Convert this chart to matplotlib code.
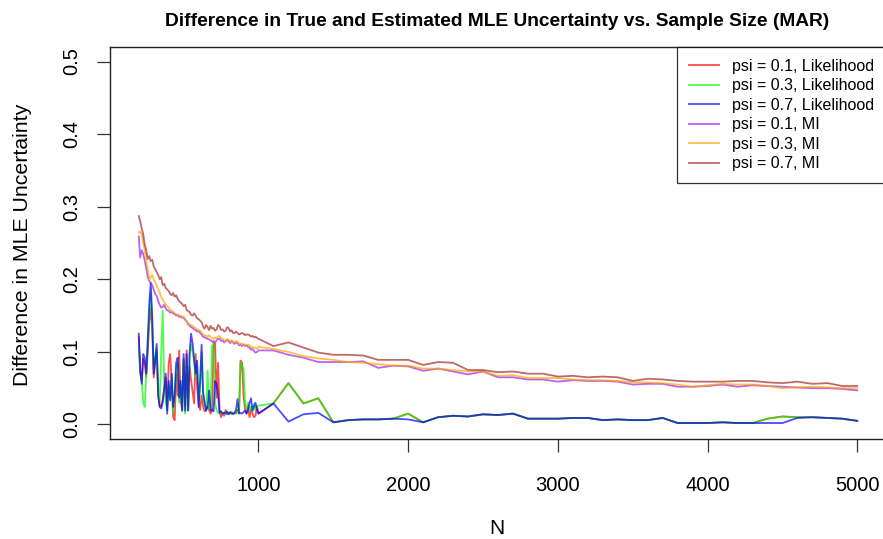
import numpy as np
import matplotlib
matplotlib.use("Agg")
import matplotlib.pyplot as plt

# sample sizes: every 10 up to 1000, then every 100
N = np.concatenate([np.arange(200, 1001, 10), np.arange(1100, 5001, 100)])

# likelihood, psi = 0.1
lik_01_dense = [0.120, 0.070, 0.060, 0.090, 0.085, 0.065, 0.100, 0.140, 0.160, 0.130,
                0.065, 0.085, 0.100, 0.040, 0.025, 0.025, 0.035, 0.045, 0.065, 0.020,
                0.084, 0.097, 0.060, 0.010, 0.006, 0.070, 0.040, 0.102, 0.033, 0.020,
                0.090, 0.025, 0.102, 0.020, 0.080, 0.060, 0.045, 0.029, 0.097, 0.050,
                0.030, 0.020, 0.040, 0.025, 0.018, 0.020, 0.025, 0.020, 0.015, 0.020,
                0.113, 0.111, 0.037, 0.085, 0.020, 0.010, 0.015, 0.012, 0.020, 0.014,
                0.016, 0.015, 0.017, 0.014, 0.016, 0.015, 0.020, 0.016, 0.088, 0.085,
                0.040, 0.020, 0.015, 0.025, 0.010, 0.020, 0.015, 0.010, 0.012, 0.025,
                0.015]
lik_01_sparse = [0.029, 0.057, 0.029, 0.036, 0.003, 0.006, 0.007, 0.007, 0.008, 0.015,
                 0.003, 0.010, 0.012, 0.011, 0.014, 0.013, 0.015, 0.008, 0.008, 0.008,
                 0.009, 0.009, 0.006, 0.007, 0.006, 0.006, 0.009, 0.002, 0.002, 0.002,
                 0.003, 0.002, 0.002, 0.008, 0.011, 0.010, 0.010, 0.009, 0.008, 0.005]

# likelihood, psi = 0.3
lik_03_dense = [0.110, 0.075, 0.060, 0.030, 0.024, 0.070, 0.110, 0.150, 0.180, 0.140,
                0.075, 0.090, 0.105, 0.045, 0.030, 0.097, 0.157, 0.060, 0.030, 0.020,
                0.055, 0.035, 0.065, 0.015, 0.040, 0.080, 0.085, 0.030, 0.055, 0.019,
                0.090, 0.015, 0.085, 0.020, 0.095, 0.110, 0.100, 0.085, 0.065, 0.080,
                0.030, 0.050, 0.100, 0.040, 0.028, 0.020, 0.074, 0.025, 0.020, 0.108,
                0.111, 0.030, 0.020, 0.016, 0.015, 0.018, 0.016, 0.015, 0.017, 0.015,
                0.016, 0.015, 0.017, 0.015, 0.016, 0.015, 0.020, 0.016, 0.085, 0.081,
                0.078, 0.030, 0.020, 0.030, 0.019, 0.025, 0.020, 0.029, 0.019, 0.025,
                0.026]
lik_03_sparse = [0.029, 0.057, 0.029, 0.036, 0.003, 0.006, 0.007, 0.007, 0.008, 0.015,
                 0.003, 0.010, 0.012, 0.011, 0.014, 0.013, 0.015, 0.008, 0.008, 0.008,
                 0.009, 0.009, 0.006, 0.007, 0.006, 0.006, 0.009, 0.002, 0.002, 0.002,
                 0.003, 0.002, 0.002, 0.008, 0.011, 0.010, 0.010, 0.009, 0.008, 0.005]

# likelihood, psi = 0.7
lik_07_dense = [0.125, 0.075, 0.056, 0.097, 0.092, 0.070, 0.115, 0.165, 0.195, 0.150,
                0.070, 0.090, 0.111, 0.040, 0.024, 0.022, 0.030, 0.051, 0.070, 0.015,
                0.060, 0.033, 0.070, 0.024, 0.040, 0.085, 0.092, 0.037, 0.060, 0.019,
                0.097, 0.019, 0.097, 0.019, 0.100, 0.125, 0.111, 0.090, 0.070, 0.088,
                0.024, 0.060, 0.110, 0.045, 0.030, 0.019, 0.025, 0.047, 0.019, 0.020,
                0.018, 0.060, 0.055, 0.040, 0.016, 0.018, 0.015, 0.016, 0.015, 0.018,
                0.014, 0.017, 0.015, 0.015, 0.016, 0.020, 0.035, 0.015, 0.016, 0.015,
                0.017, 0.019, 0.015, 0.020, 0.030, 0.036, 0.019, 0.025, 0.030, 0.020,
                0.015]
lik_07_sparse = [0.029, 0.004, 0.014, 0.016, 0.003, 0.006, 0.007, 0.007, 0.008, 0.007,
                 0.003, 0.010, 0.012, 0.011, 0.014, 0.013, 0.015, 0.008, 0.008, 0.008,
                 0.009, 0.009, 0.006, 0.007, 0.006, 0.006, 0.009, 0.002, 0.002, 0.002,
                 0.003, 0.002, 0.002, 0.002, 0.002, 0.009, 0.010, 0.009, 0.008, 0.005]

# MI, psi = 0.1
mi_01_dense = [0.259, 0.230, 0.240, 0.235, 0.226, 0.215, 0.203, 0.198, 0.195, 0.192,
               0.186, 0.180, 0.177, 0.170, 0.165, 0.161, 0.162, 0.165, 0.160, 0.157,
               0.157, 0.154, 0.155, 0.153, 0.152, 0.150, 0.151, 0.148, 0.149, 0.147,
               0.147, 0.144, 0.142, 0.138, 0.136, 0.134, 0.133, 0.131, 0.130, 0.128,
               0.129, 0.126, 0.124, 0.121, 0.120, 0.119, 0.118, 0.117, 0.116, 0.114,
               0.115, 0.113, 0.116, 0.118, 0.118, 0.115, 0.116, 0.113, 0.115, 0.116,
               0.115, 0.112, 0.115, 0.113, 0.111, 0.113, 0.112, 0.109, 0.110, 0.108,
               0.110, 0.108, 0.109, 0.107, 0.106, 0.103, 0.104, 0.101, 0.099, 0.100,
               0.102]
mi_01_sparse = [0.102, 0.096, 0.092, 0.086, 0.086, 0.086, 0.087, 0.078, 0.081, 0.080,
                0.074, 0.077, 0.073, 0.069, 0.073, 0.065, 0.065, 0.062, 0.062, 0.059,
                0.061, 0.060, 0.060, 0.059, 0.055, 0.056, 0.056, 0.052, 0.052, 0.053,
                0.055, 0.052, 0.054, 0.053, 0.052, 0.051, 0.050, 0.050, 0.049, 0.047]

# MI, psi = 0.3
mi_03_dense = [0.264, 0.266, 0.262, 0.250, 0.240, 0.225, 0.215, 0.200, 0.203, 0.206,
               0.200, 0.196, 0.192, 0.186, 0.182, 0.176, 0.172, 0.168, 0.166, 0.163,
               0.161, 0.158, 0.157, 0.155, 0.153, 0.152, 0.151, 0.150, 0.150, 0.148,
               0.149, 0.145, 0.142, 0.139, 0.138, 0.137, 0.136, 0.134, 0.133, 0.131,
               0.130, 0.129, 0.127, 0.124, 0.123, 0.122, 0.121, 0.123, 0.120, 0.119,
               0.118, 0.120, 0.118, 0.121, 0.122, 0.119, 0.118, 0.116, 0.115, 0.118,
               0.117, 0.114, 0.116, 0.114, 0.113, 0.115, 0.114, 0.111, 0.112, 0.111,
               0.111, 0.109, 0.110, 0.110, 0.109, 0.106, 0.107, 0.105, 0.106, 0.104,
               0.107]
mi_03_sparse = [0.104, 0.100, 0.094, 0.091, 0.089, 0.086, 0.085, 0.083, 0.081, 0.081,
                0.077, 0.077, 0.075, 0.073, 0.073, 0.067, 0.068, 0.064, 0.064, 0.064,
                0.062, 0.061, 0.061, 0.060, 0.058, 0.058, 0.057, 0.055, 0.052, 0.054,
                0.056, 0.055, 0.055, 0.053, 0.050, 0.051, 0.052, 0.051, 0.050, 0.050]

# MI, psi = 0.7
mi_07_dense = [0.287, 0.280, 0.270, 0.262, 0.248, 0.240, 0.228, 0.232, 0.225, 0.227,
               0.218, 0.214, 0.210, 0.206, 0.200, 0.203, 0.192, 0.194, 0.188, 0.186,
               0.184, 0.180, 0.178, 0.181, 0.176, 0.178, 0.173, 0.170, 0.168, 0.166,
               0.163, 0.165, 0.158, 0.156, 0.155, 0.151, 0.150, 0.153, 0.150, 0.146,
               0.145, 0.143, 0.141, 0.135, 0.132, 0.137, 0.134, 0.130, 0.136, 0.132,
               0.133, 0.129, 0.131, 0.137, 0.135, 0.130, 0.131, 0.128, 0.129, 0.134,
               0.133, 0.128, 0.130, 0.126, 0.126, 0.128, 0.126, 0.124, 0.125, 0.126,
               0.125, 0.123, 0.124, 0.124, 0.123, 0.121, 0.122, 0.120, 0.121, 0.119,
               0.118]
mi_07_sparse = [0.108, 0.113, 0.106, 0.099, 0.096, 0.096, 0.095, 0.089, 0.089, 0.089,
                0.082, 0.086, 0.085, 0.075, 0.075, 0.072, 0.073, 0.070, 0.070, 0.066,
                0.067, 0.065, 0.066, 0.065, 0.060, 0.063, 0.062, 0.060, 0.059, 0.059,
                0.059, 0.060, 0.060, 0.058, 0.057, 0.059, 0.056, 0.057, 0.053, 0.053]

labels = ["psi = 0.1, Likelihood", "psi = 0.3, Likelihood", "psi = 0.7, Likelihood",
          "psi = 0.1, MI", "psi = 0.3, MI", "psi = 0.7, MI"]
colors = ["#FF0000", "#00FF00", "#0000FF", "#A020F0", "#FFA500", "#A52A2A"]

series = [lik_01_dense + lik_01_sparse, lik_03_dense + lik_03_sparse,
          lik_07_dense + lik_07_sparse, mi_01_dense + mi_01_sparse,
          mi_03_dense + mi_03_sparse, mi_07_dense + mi_07_sparse]

plt.rcParams["font.family"] = ["Liberation Sans", "DejaVu Sans"]

W, H = 883, 539
fig = plt.figure(figsize=(W / 100, H / 100), dpi=100)
# plot box runs off the right edge of the image, as in the original
ax = fig.add_axes([110 / W, 1 - 439 / H, (886 - 110) / W, (439 - 47) / H])

for y, c, lab in zip(series, colors, labels):
    ax.plot(N, y, color=c, alpha=0.7, linewidth=1.3, label=lab)

ax.set_xlim(8, 5192)
ax.set_ylim(-0.02, 0.52)
ax.set_xticks([1000, 2000, 3000, 4000, 5000])
ax.set_yticks([0.0, 0.1, 0.2, 0.3, 0.4, 0.5])
ax.set_yticklabels(["0.0", "0.1", "0.2", "0.3", "0.4", "0.5"], rotation=90, va="center")
ax.tick_params(axis="both", labelsize=14.5, length=9.5, width=0.9, color="#333333")
ax.tick_params(axis="x", pad=17)
ax.tick_params(axis="y", pad=11)
for s in ax.spines.values():
    s.set_linewidth(1.0)
    s.set_color("#222222")

leg = ax.legend(loc="upper right", borderaxespad=0, fontsize=11.5, frameon=True,
                fancybox=False, edgecolor="black", handlelength=1.9,
                handletextpad=0.8, labelspacing=0.28, borderpad=0.75)
leg.get_frame().set_linewidth(0.9)

fig.text(497 / W, 1 - 21 / H, "Difference in True and Estimated MLE Uncertainty vs. Sample Size (MAR)",
         ha="center", va="center", fontsize=13.8, fontweight="bold")
fig.text(497 / W, 1 - 529 / H, "N", ha="center", va="center", fontsize=15)
fig.text(23 / W, 1 - 245 / H, "Difference in MLE Uncertainty", ha="center", va="center",
         rotation=90, fontsize=15.3)

fig.savefig("out.png", dpi=100)
